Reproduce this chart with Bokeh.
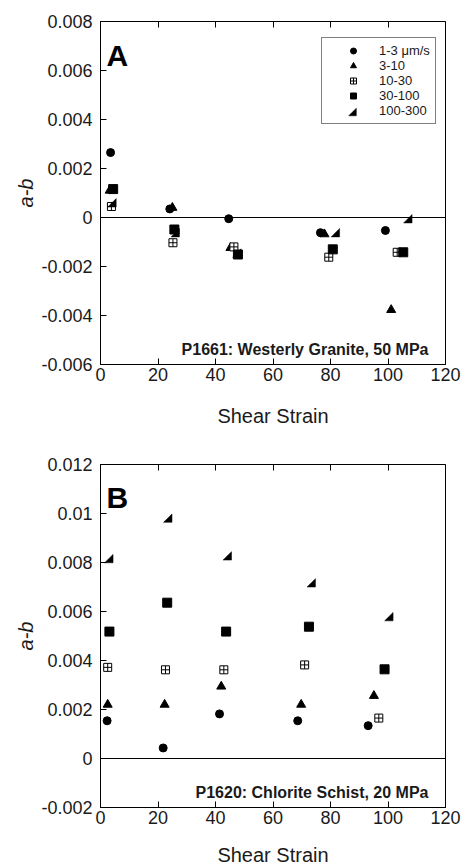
from bokeh.plotting import figure
from bokeh.models import (FixedTicker, LinearAxis, Span, Label,
                          Legend, LegendItem, CustomJSTickFormatter, Range1d,
                          CustomLabelingPolicy)
from bokeh.layouts import column
from bokeh.embed import file_html
from bokeh.resources import INLINE

FONT = "Liberation Sans"

speed_labels = ["1-3 \u03bcm/s", "3-10", "10-30", "30-100", "100-300"]
x_ticks = [0, 20, 40, 60, 80, 100, 120]
a_y_ticks = [-0.006, -0.004, -0.002, 0, 0.002, 0.004, 0.006, 0.008]
b_y_ticks = [-0.002, 0, 0.002, 0.004, 0.006, 0.008, 0.01, 0.012]

# Panel A: P1661 Westerly Granite, 50 MPa
a_x_1_3 = [3.5, 24.1, 44.6, 76.5, 99.1]
a_y_1_3 = [0.00265, 0.00035, -0.00005, -0.00062, -0.00053]
a_x_3_10 = [3.2, 25.0, 45.2, 77.9, 101.1]
a_y_3_10 = [0.0011, 0.0004, -0.00124, -0.00068, -0.00377]
a_x_10_30 = [3.8, 25.2, 46.4, 79.4, 103.2]
a_y_10_30 = [0.00045, -0.00103, -0.0012, -0.00162, -0.00142]
a_x_30_100 = [4.4, 25.7, 47.8, 80.8, 105.3]
a_y_30_100 = [0.00116, -0.00049, -0.00151, -0.0013, -0.00142]
a_x_100_300 = [4.0, 26.0, 47.4, 81.7, 106.9]
a_y_100_300 = [0.0006, -0.00062, -0.00145, -0.00062, -0.00005]

# Panel B: P1620 Chlorite Schist, 20 MPa
b_x_1_3 = [2.3, 21.8, 41.4, 68.6, 93.1]
b_y_1_3 = [0.00154, 0.00043, 0.00182, 0.00154, 0.00134]
b_x_3_10 = [2.5, 22.3, 42.0, 69.8, 95.1]
b_y_3_10 = [0.0022, 0.0022, 0.00294, 0.0022, 0.00256]
b_x_10_30 = [2.5, 22.6, 42.9, 71.0, 96.8]
b_y_10_30 = [0.00372, 0.00362, 0.00362, 0.00382, 0.00165]
b_x_30_100 = [3.1, 23.2, 43.7, 72.5, 98.8]
b_y_30_100 = [0.00518, 0.00636, 0.00518, 0.00538, 0.00364]
b_x_100_300 = [2.9, 23.4, 44.1, 73.3, 100.3]
b_y_100_300 = [0.00816, 0.00981, 0.00827, 0.00717, 0.00579]

TXT = "#1a1a1a"
FRAME_W = 345
TRI_HALF_PX = 4.2

fmt = CustomJSTickFormatter(code="return Number(tick.toFixed(3)).toString();")
no_labels = CustomLabelingPolicy(code="""
try { for (let i = 0; i < indices.size; i++) { indices.unset(i) } } catch (e) {}
return indices
""")


def half_triangles(xs, ys, xr, yr, frame_h, half_px):
    # lower-right right triangles of fixed pixel size around each data point
    dx = half_px * (xr[1] - xr[0]) / FRAME_W
    dy = half_px * (yr[1] - yr[0]) / frame_h
    pxs = [[x - dx, x + dx, x + dx] for x in xs]
    pys = [[y - dy, y - dy, y + dy] for y in ys]
    return pxs, pys


def make_panel(letter, note, xs, ys, yticks, height, btop, bbottom,
               frame_h, xlabel_standoff, show_legend):
    xr = (0, 120)
    yr = (yticks[0], yticks[-1])
    p = figure(width=474, height=height, output_backend="svg", toolbar_location=None,
               x_range=Range1d(*xr), y_range=Range1d(*yr),
               min_border_left=100, min_border_right=29,
               min_border_top=btop, min_border_bottom=bbottom,
               x_axis_label="Shear Strain", y_axis_label="a-b")
    p.grid.visible = False
    p.outline_line_color = "black"
    p.outline_line_width = 1
    p.background_fill_color = "white"
    p.border_fill_color = "white"

    for ax in (p.xaxis[0], p.yaxis[0]):
        ax.major_tick_in = 6
        ax.major_tick_out = 0
        ax.minor_tick_line_color = None
        ax.axis_line_color = "black"
        ax.major_tick_line_color = "black"
        ax.major_label_text_font = FONT
        ax.major_label_text_font_size = "18px"
        ax.major_label_text_color = TXT
        ax.axis_label_text_font = FONT
        ax.axis_label_text_font_size = "20px"
        ax.axis_label_text_color = TXT
    p.xaxis[0].ticker = FixedTicker(ticks=x_ticks)
    p.xaxis[0].major_label_standoff = 3
    p.xaxis[0].axis_label_standoff = xlabel_standoff
    p.xaxis[0].axis_label_text_font_style = "normal"
    p.yaxis[0].ticker = FixedTicker(ticks=yticks)
    p.yaxis[0].formatter = fmt
    p.yaxis[0].major_label_standoff = 8
    p.yaxis[0].axis_label_standoff = 1
    p.yaxis[0].axis_label_text_font_style = "italic"

    top = LinearAxis(ticker=FixedTicker(ticks=x_ticks), major_tick_in=6, major_tick_out=0,
                     minor_tick_line_color=None, axis_line_color=None,
                     major_label_policy=no_labels,
                     major_label_text_font_size="0px", major_label_standoff=0)
    p.add_layout(top, "above")

    p.add_layout(Span(location=0, dimension="width", line_color="black", line_width=1))

    r1 = p.scatter(xs[0], ys[0], marker="circle", size=8, color="black")
    r2 = p.scatter(xs[1], ys[1], marker="triangle", size=9, color="black")
    r3 = p.scatter(xs[2], ys[2], marker="square_cross", size=8,
                   fill_color="white", line_color="black", line_width=1)
    r4 = p.scatter(xs[3], ys[3], marker="square", size=9, color="black")
    pxs, pys = half_triangles(xs[4], ys[4], xr, yr, frame_h, TRI_HALF_PX)
    p.patches(pxs, pys, fill_color="black", line_color="black", line_width=0.5)
    # invisible stand-in so the legend gets a row for this series
    r5 = p.scatter(xs[4], ys[4], marker="circle", size=1, fill_alpha=0, line_alpha=0)

    if show_legend:
        pad, gw, lh = 5, 52, 15
        lx, ly = 221, frame_h - 18 - (2 * pad + 5 * lh)
        items = [LegendItem(label=lab, renderers=[r])
                 for lab, r in zip(speed_labels, [r1, r2, r3, r4, r5])]
        leg = Legend(items=items, location=(lx, ly),
                     label_text_font=FONT, label_text_font_size="13px",
                     label_text_color=TXT,
                     label_height=lh, glyph_height=lh, glyph_width=gw,
                     padding=pad, spacing=0, label_standoff=-5,
                     border_line_color="black", border_line_width=1,
                     background_fill_alpha=0)
        p.add_layout(leg)
        # legend icon for the half-triangle series, placed at the legend's last row
        cx = xr[0] + (lx + pad + gw / 2) * (xr[1] - xr[0]) / FRAME_W
        cy = yr[0] + (ly + pad + 0.5 * lh) * (yr[1] - yr[0]) / frame_h
        ixs, iys = half_triangles([cx], [cy], xr, yr, frame_h, 3.8)
        p.patches(ixs, iys, fill_color="black", line_color="black", line_width=0.5)

    p.add_layout(Label(x=6, y=frame_h - 34, x_units="screen", y_units="screen",
                       text=letter, text_font=FONT, text_font_size="30px",
                       text_font_style="bold", text_color="black",
                       text_baseline="alphabetic"))
    p.add_layout(Label(x=328, y=15, x_units="screen", y_units="screen", text=note,
                       text_font=FONT, text_font_size="16px", text_font_style="bold",
                       text_color=TXT, text_align="right",
                       text_baseline="alphabetic"))
    return p


pA = make_panel("A", "P1661: Westerly Granite, 50 MPa",
                [a_x_1_3, a_x_3_10, a_x_10_30, a_x_30_100, a_x_100_300],
                [a_y_1_3, a_y_3_10, a_y_10_30, a_y_30_100, a_y_100_300],
                a_y_ticks, 438, 21, 74, 343, 21, True)
pB = make_panel("B", "P1620: Chlorite Schist, 20 MPa",
                [b_x_1_3, b_x_3_10, b_x_10_30, b_x_30_100, b_x_100_300],
                [b_y_1_3, b_y_3_10, b_y_10_30, b_y_30_100, b_y_100_300],
                b_y_ticks, 430, 26, 60, 344, 17, False)

layout = column(pA, pB, spacing=0)
open("out.html", "w").write(file_html(layout, INLINE))
